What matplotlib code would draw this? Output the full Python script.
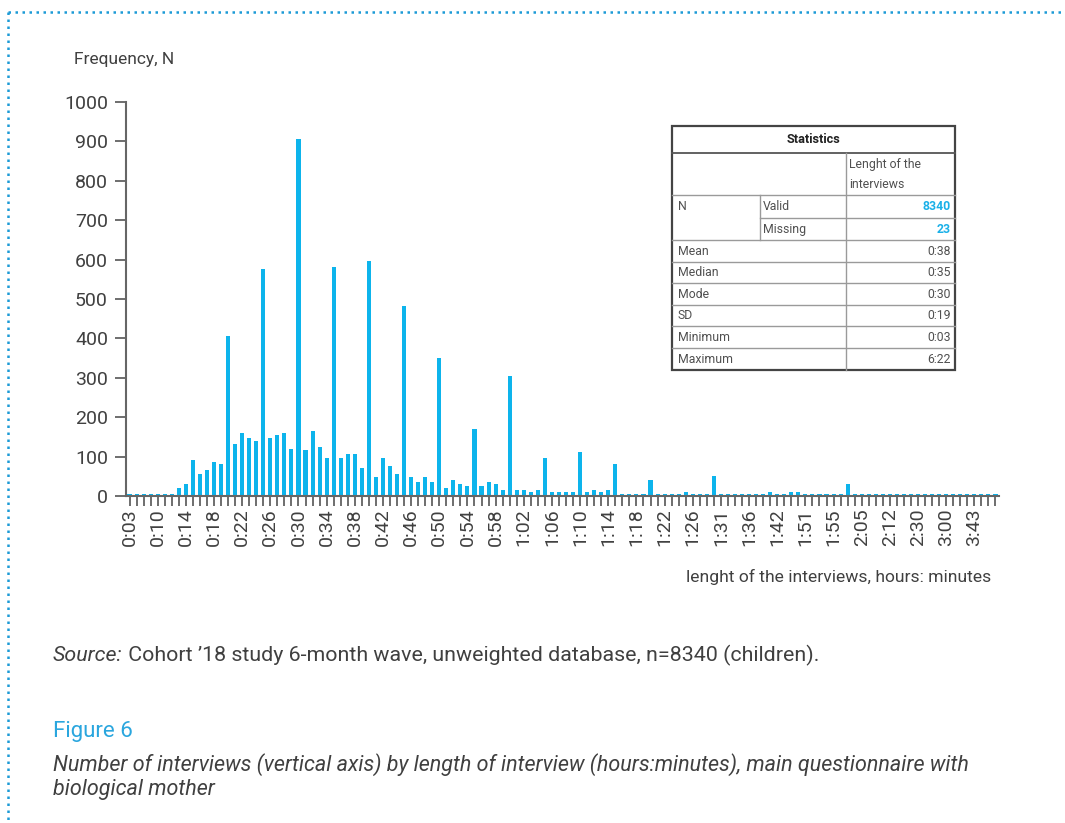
import numpy as np
import matplotlib.pyplot as plt

plt.rcParams['font.family'] = ['Roboto', 'DejaVu Sans']

# interview length categories (hours:minutes), as on the x axis
lengths = [
    '0:03', '0:05', '0:07', '0:09', '0:10', '0:11', '0:12', '0:13', '0:14', '0:15',
    '0:16', '0:17', '0:18', '0:19', '0:20', '0:21', '0:22', '0:23', '0:24', '0:25',
    '0:26', '0:27', '0:28', '0:29', '0:30', '0:31', '0:32', '0:33', '0:34', '0:35',
    '0:36', '0:37', '0:38', '0:39', '0:40', '0:41', '0:42', '0:43', '0:44', '0:45',
    '0:46', '0:47', '0:48', '0:49', '0:50', '0:51', '0:52', '0:53', '0:54', '0:55',
    '0:56', '0:57', '0:58', '0:59', '1:00', '1:01', '1:02', '1:03', '1:04', '1:05',
    '1:06', '1:07', '1:08', '1:09', '1:10', '1:11', '1:12', '1:13', '1:14', '1:15',
    '1:16', '1:17', '1:18', '1:19', '1:20', '1:21', '1:22', '1:23', '1:24', '1:25',
    '1:26', '1:27', '1:28', '1:30', '1:31', '1:32', '1:33', '1:35', '1:36', '1:37',
    '1:38', '1:40', '1:42', '1:44', '1:45', '1:47', '1:51', '1:52', '1:53', '1:54',
    '1:55', '1:58', '2:00', '2:02', '2:05', '2:07', '2:09', '2:10', '2:12', '2:15',
    '2:20', '2:25', '2:30', '2:40', '2:45', '2:50', '3:00', '3:10', '3:20', '3:30',
    '3:43', '4:10', '5:05', '6:22',
]

# number of interviews per length
counts = [
    5, 5, 5, 5, 5, 5, 5, 21, 31, 91,
    57, 66, 87, 82, 405, 131, 161, 146, 140, 577,
    146, 156, 161, 120, 905, 116, 166, 125, 97, 582,
    97, 107, 107, 71, 597, 47, 97, 76, 57, 483,
    47, 36, 47, 36, 350, 21, 41, 31, 26, 170,
    26, 36, 31, 16, 305, 16, 16, 11, 16, 97,
    11, 11, 11, 11, 111, 11, 16, 11, 16, 81,
    6, 6, 6, 6, 41, 6, 6, 6, 6, 11,
    5, 5, 5, 51, 5, 5, 5, 5, 5, 5,
    5, 10, 5, 5, 10, 10, 5, 5, 5, 5,
    5, 5, 31, 5, 5, 5, 5, 5, 5, 5,
    5, 5, 5, 5, 5, 5, 5, 5, 5, 5,
    5, 5, 5, 5,
]

# SPSS statistics box
stat_names = ['Mean', 'Median', 'Mode', 'SD', 'Minimum', 'Maximum']
stat_values = ['0:38', '0:35', '0:30', '0:19', '0:03', '6:22']
n_valid = 8340
n_missing = 23

bar_col = '#0db4ec'
txt_col = '#404040'
frame_blue = '#1c9ad6'
fs = 12.5

W, H = 1065, 823
fig = plt.figure(figsize=(W / 100, H / 100), dpi=100)

ax = fig.add_axes([126 / W, 1 - 496 / H, (999 - 126) / W, (496 - 102) / H])
x = np.arange(len(counts))
ax.bar(x, counts, width=0.58, color=bar_col)
ax.set_xlim(-0.5, len(counts) - 0.5)
ax.set_ylim(0, 1000)
ax.set_yticks(range(0, 1001, 100))
ax.set_xticks(x)
ax.set_xticklabels([lab if i % 4 == 0 else '' for i, lab in enumerate(lengths)], rotation=90)
ax.tick_params(axis='y', length=8, width=1.2, color='#555555', labelsize=14,
               labelcolor=txt_col, pad=5)
ax.tick_params(axis='x', length=7, width=1.2, color='#555555', labelsize=14,
               labelcolor=txt_col, pad=2)
for s in ['top', 'right']:
    ax.spines[s].set_visible(False)
for s in ['left', 'bottom']:
    ax.spines[s].set_color('#666666')
    ax.spines[s].set_linewidth(1.5)

# overlay in pixel coordinates for the frame, texts and the statistics box
ov = fig.add_axes([0, 0, 1, 1], zorder=5)
ov.set_xlim(0, W)
ov.set_ylim(H, 0)
ov.axis('off')
ov.patch.set_alpha(0)

ov.plot([8, W], [12, 12], color=frame_blue, lw=1.8, dashes=(1, 1.8))
ov.plot([8, 8], [12, H], color=frame_blue, lw=1.8, dashes=(1, 1.8))

ov.text(74, 59, 'Frequency, N', fontsize=fs, color=txt_col, va='center', ha='left')
ov.text(991, 577, 'lenght of the interviews, hours: minutes', fontsize=12.6,
        color=txt_col, va='center', ha='right')

# statistics table
cx = [672, 760, 846, 955]
ry = [126, 153, 195, 218, 240, 262, 283, 305, 326, 348, 370]
ov.add_patch(plt.Rectangle((cx[0], ry[0]), cx[3] - cx[0], ry[-1] - ry[0],
                           facecolor='white', edgecolor='#444444', lw=1.6))
line_c = '#9a9a9a'
ov.plot([cx[0], cx[3]], [ry[1], ry[1]], color='#555555', lw=1.3)
for yy in [ry[2]] + ry[4:-1]:
    ov.plot([cx[0], cx[3]], [yy, yy], color=line_c, lw=1)
ov.plot([cx[1], cx[3]], [ry[3], ry[3]], color=line_c, lw=1)
ov.plot([cx[2], cx[2]], [ry[1], ry[-1]], color=line_c, lw=1)
ov.plot([cx[1], cx[1]], [ry[2], ry[4]], color=line_c, lw=1)

fs_t = 8.8
tc = '#505050'
ov.text((cx[0] + cx[3]) / 2, (ry[0] + ry[1]) / 2, 'Statistics', fontsize=9.2,
        fontweight='bold', color='#222222', ha='center', va='center')
ov.text(cx[2] + 3, 164, 'Lenght of the', fontsize=fs_t, color=tc, va='center')
ov.text(cx[2] + 3, 184, 'interviews', fontsize=fs_t, color=tc, va='center')
ov.text(cx[0] + 6, (ry[2] + ry[3]) / 2, 'N', fontsize=fs_t, color=tc, va='center')
ov.text(cx[1] + 3, (ry[2] + ry[3]) / 2, 'Valid', fontsize=fs_t, color=tc, va='center')
ov.text(cx[1] + 3, (ry[3] + ry[4]) / 2, 'Missing', fontsize=fs_t, color=tc, va='center')
ov.text(cx[3] - 4, (ry[2] + ry[3]) / 2, str(n_valid), fontsize=fs_t, fontweight='bold',
        color='#1ab0e8', ha='right', va='center')
ov.text(cx[3] - 4, (ry[3] + ry[4]) / 2, str(n_missing), fontsize=fs_t, fontweight='bold',
        color='#1ab0e8', ha='right', va='center')
for k, (nm, vl) in enumerate(zip(stat_names, stat_values)):
    yc = (ry[4 + k] + ry[5 + k]) / 2
    ov.text(cx[0] + 6, yc, nm, fontsize=fs_t, color=tc, va='center')
    ov.text(cx[3] - 4, yc, vl, fontsize=fs_t, color=tc, va='center', ha='right')

# source and caption (two texts sharing one baseline)
fs_src = 15.4
t1 = ov.text(53, 661, 'Source:', fontsize=fs_src, style='italic', color=txt_col, va='baseline')
rend = fig.canvas.get_renderer()
w_src = t1.get_window_extent(rend).width
ov.text(53 + w_src, 661, ' Cohort \u201918 study 6-month wave, unweighted database, '
        'n=8340 (children).', fontsize=fs_src, color=txt_col, va='baseline')
ov.text(53, 731, 'Figure 6', fontsize=16, color='#2aa6de', va='center')
ov.text(53, 765, 'Number of interviews (vertical axis) by length of interview (hours:minutes), '
        'main questionnaire with', fontsize=15.5, style='italic', color=txt_col, va='center')
ov.text(53, 790, 'biological mother', fontsize=15.5, style='italic', color=txt_col, va='center')

fig.savefig('out.png', dpi=100, facecolor='white')
